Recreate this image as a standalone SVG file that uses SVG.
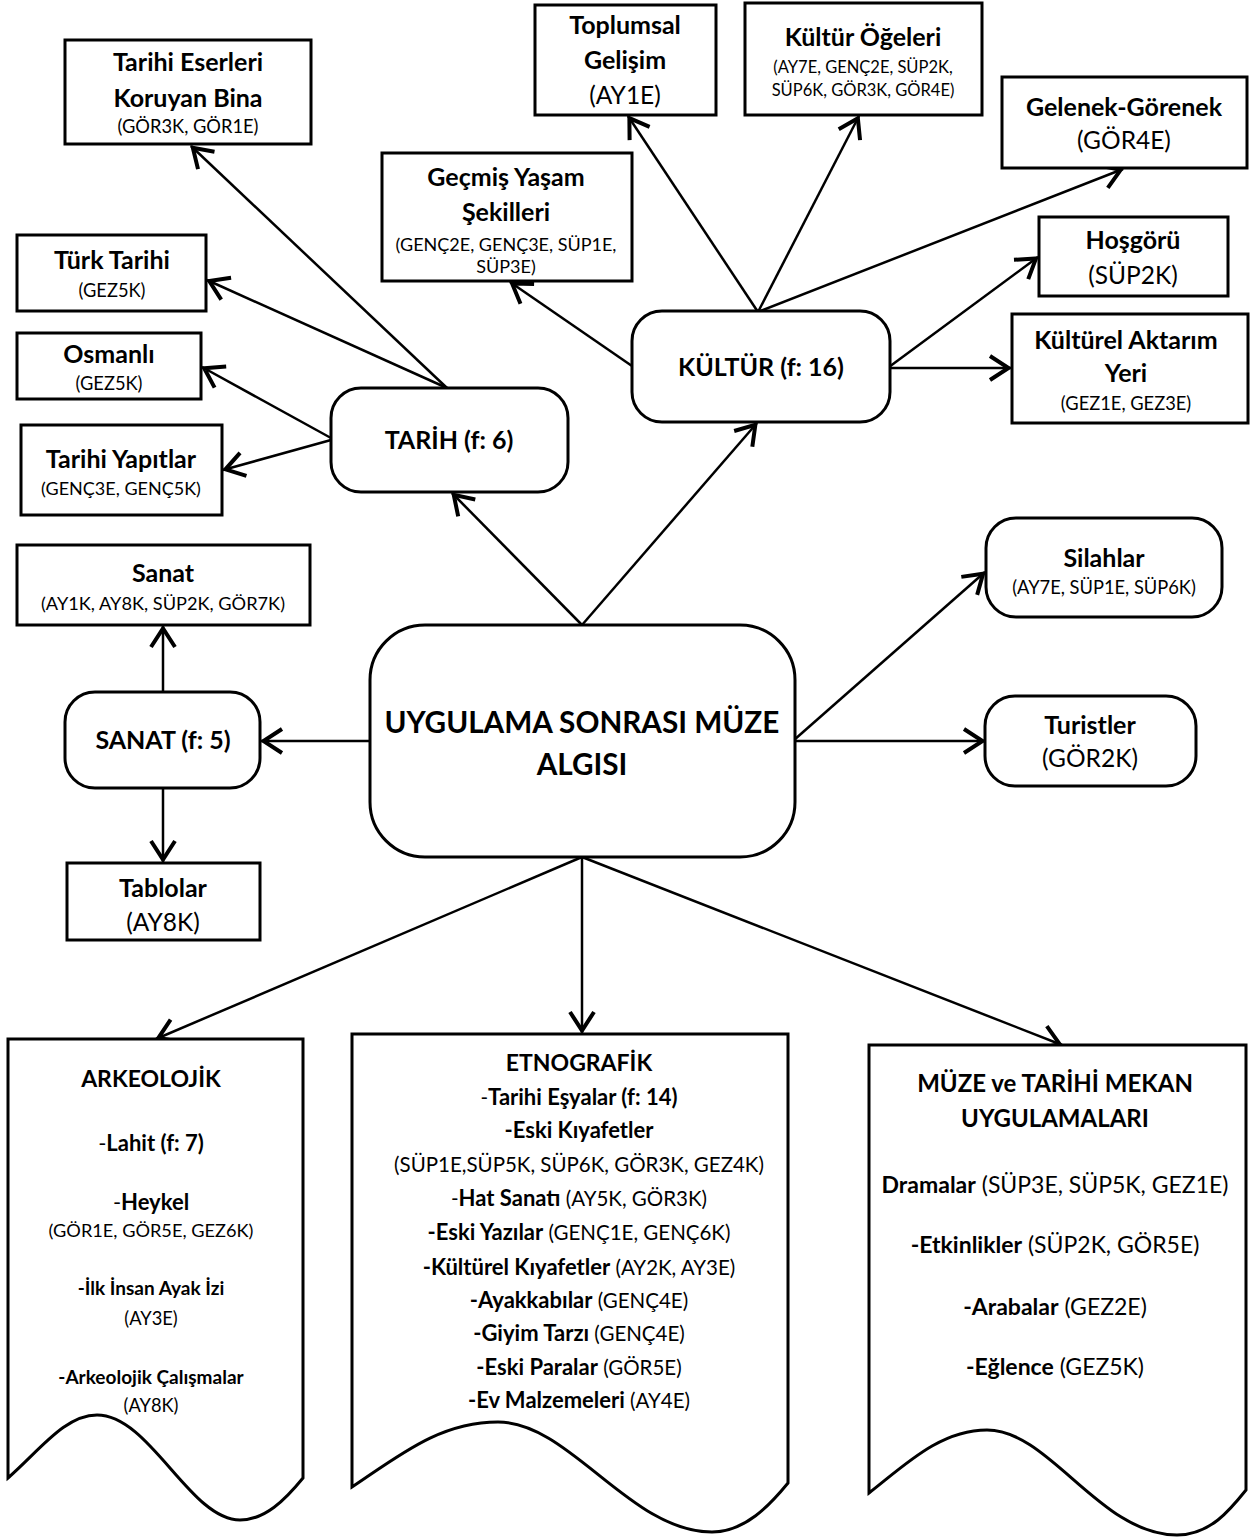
<svg xmlns="http://www.w3.org/2000/svg" width="1250" height="1537" viewBox="0 0 1250 1537">
<style>
text{font-family:Lato,"Liberation Sans",sans-serif;fill:#000;text-anchor:middle}
.b{font-weight:bold}
.h{font-size:25px;font-weight:bold}
.s{font-size:18.3px}
.m{font-size:24.5px}
.box{fill:#fff;stroke:#000;stroke-width:3}
.ln{fill:none;stroke:#000;stroke-width:2.5}
.d{font-size:20.5px}
.db{font-size:22px;font-weight:bold}
.a{font-size:18.3px}
.ab{font-size:19px;font-weight:bold}
.mz{font-size:23px}
</style>
<defs>
<marker id="ah" markerUnits="userSpaceOnUse" markerWidth="30" markerHeight="30" viewBox="-25 -15 30 30" refX="0" refY="0" orient="auto" overflow="visible">
<path d="M-21,-12 L-2.5,0 L-21,12" fill="none" stroke="#000" stroke-width="4"/>
</marker>
</defs>
<rect width="1250" height="1537" fill="#fff"/>
<g id="connectors">
<line class="ln" x1="582" y1="625" x2="452" y2="493" marker-end="url(#ah)"/>
<line class="ln" x1="582" y1="625" x2="757" y2="423" marker-end="url(#ah)"/>
<line class="ln" x1="447" y1="388" x2="191" y2="146" marker-end="url(#ah)"/>
<line class="ln" x1="447" y1="388" x2="207" y2="280" marker-end="url(#ah)"/>
<line class="ln" x1="331" y1="438" x2="202" y2="367" marker-end="url(#ah)"/>
<line class="ln" x1="331" y1="440" x2="223" y2="470" marker-end="url(#ah)"/>
<line class="ln" x1="758" y1="312" x2="628" y2="116" marker-end="url(#ah)"/>
<line class="ln" x1="632" y1="366" x2="510" y2="282" marker-end="url(#ah)"/>
<line class="ln" x1="758" y1="312" x2="859" y2="116" marker-end="url(#ah)"/>
<line class="ln" x1="758" y1="312" x2="1123" y2="169" marker-end="url(#ah)"/>
<line class="ln" x1="889" y1="367" x2="1038" y2="257" marker-end="url(#ah)"/>
<line class="ln" x1="889" y1="368" x2="1011" y2="368" marker-end="url(#ah)"/>
<line class="ln" x1="370" y1="741" x2="261" y2="741" marker-end="url(#ah)"/>
<line class="ln" x1="163" y1="692" x2="163" y2="626" marker-end="url(#ah)"/>
<line class="ln" x1="163" y1="788" x2="163" y2="862" marker-end="url(#ah)"/>
<line class="ln" x1="794" y1="740" x2="985" y2="572" marker-end="url(#ah)"/>
<line class="ln" x1="794" y1="741" x2="985" y2="741" marker-end="url(#ah)"/>
<line class="ln" x1="582" y1="857" x2="156" y2="1039" marker-end="url(#ah)"/>
<line class="ln" x1="582" y1="857" x2="582" y2="1033" marker-end="url(#ah)"/>
<line class="ln" x1="582" y1="857" x2="1062" y2="1045" marker-end="url(#ah)"/>
</g>
<g id="n-center">
<rect class="box" x="370" y="625" width="425" height="232" rx="55"/>
<text x="582" y="733" style="font-size:29.7px" class="b">UYGULAMA SONRASI MÜZE</text>
<text x="582" y="775" style="font-size:29.7px" class="b">ALGISI</text>
</g>
<g id="n-tarih">
<rect class="box" x="331" y="388" width="237" height="104" rx="30"/>
<text x="449" y="449" class="h">TARİH (f: 6)</text>
</g>
<g id="n-kultur">
<rect class="box" x="632" y="311" width="258" height="111" rx="30"/>
<text x="761" y="376" class="h">KÜLTÜR (f: 16)</text>
</g>
<g id="n-sanat">
<rect class="box" x="65" y="692" width="195" height="96" rx="30"/>
<text x="163" y="749" class="h">SANAT (f: 5)</text>
</g>
<g id="n-tarihi-eserler">
<rect class="box" x="65" y="40" width="246" height="104"/>
<text x="188" y="71" class="h">Tarihi Eserleri</text>
<text x="188" y="107" class="h">Koruyan Bina</text>
<text x="188" y="133" class="s">(GÖR3K, GÖR1E)</text>
</g>
<g id="n-turk-tarihi">
<rect class="box" x="17" y="235" width="189" height="76"/>
<text x="112" y="269" class="h">Türk Tarihi</text>
<text x="112" y="297" class="s">(GEZ5K)</text>
</g>
<g id="n-osmanli">
<rect class="box" x="17" y="333" width="184" height="66"/>
<text x="109" y="363" class="h">Osmanlı</text>
<text x="109" y="390" class="s">(GEZ5K)</text>
</g>
<g id="n-tarihi-yapitlar">
<rect class="box" x="21" y="425" width="201" height="90"/>
<text x="121" y="468" class="h">Tarihi Yapıtlar</text>
<text x="121" y="495" style="font-size:18px">(GENÇ3E, GENÇ5K)</text>
</g>
<g id="n-sanat-box">
<rect class="box" x="17" y="545" width="293" height="80"/>
<text x="163" y="582" class="h">Sanat</text>
<text x="163" y="610" style="font-size:18.2px">(AY1K, AY8K, SÜP2K, GÖR7K)</text>
</g>
<g id="n-tablolar">
<rect class="box" x="67" y="863" width="193" height="77"/>
<text x="163" y="897" class="h">Tablolar</text>
<text x="163" y="931" class="m">(AY8K)</text>
</g>
<g id="n-gecmis">
<rect class="box" x="382" y="153" width="250" height="128"/>
<text x="506" y="186" class="h">Geçmiş Yaşam</text>
<text x="506" y="221" class="h">Şekilleri</text>
<text x="506" y="251" style="font-size:18px">(GENÇ2E, GENÇ3E, SÜP1E,</text>
<text x="506" y="273" style="font-size:18px">SÜP3E)</text>
</g>
<g id="n-toplumsal">
<rect class="box" x="535" y="5" width="181" height="110"/>
<text x="625" y="34" class="h">Toplumsal</text>
<text x="625" y="69" class="h">Gelişim</text>
<text x="625" y="104" class="m">(AY1E)</text>
</g>
<g id="n-kultur-ogeleri">
<rect class="box" x="745" y="3" width="237" height="112"/>
<text x="863" y="46" class="h">Kültür Öğeleri</text>
<text x="863" y="73" style="font-size:16.5px">(AY7E, GENÇ2E, SÜP2K,</text>
<text x="863" y="96" style="font-size:16.5px">SÜP6K, GÖR3K, GÖR4E)</text>
</g>
<g id="n-gelenek">
<rect class="box" x="1002" y="77" width="245" height="91"/>
<text x="1124" y="116" class="h">Gelenek-Görenek</text>
<text x="1124" y="149" class="m">(GÖR4E)</text>
</g>
<g id="n-hosgoru">
<rect class="box" x="1039" y="217" width="189" height="79"/>
<text x="1133" y="249" class="h">Hoşgörü</text>
<text x="1133" y="284" class="m">(SÜP2K)</text>
</g>
<g id="n-aktarim">
<rect class="box" x="1012" y="314" width="236" height="109"/>
<text x="1126" y="349" class="h">Kültürel Aktarım</text>
<text x="1126" y="382" class="h">Yeri</text>
<text x="1126" y="410" class="s">(GEZ1E, GEZ3E)</text>
</g>
<g id="n-silahlar">
<rect class="box" x="986" y="518" width="236" height="99" rx="30"/>
<text x="1104" y="567" class="h">Silahlar</text>
<text x="1104" y="594" class="s">(AY7E, SÜP1E, SÜP6K)</text>
</g>
<g id="n-turistler">
<rect class="box" x="985" y="696" width="211" height="90" rx="30"/>
<text x="1090" y="734" class="h">Turistler</text>
<text x="1090" y="767" class="m">(GÖR2K)</text>
</g>
<g id="n-arkeolojik">
<path class="box" d="M8,1039 L303,1039 L303,1478 C285,1500 265,1520 240,1520 C190,1520 150,1415 97,1415 C65,1415 40,1450 8,1478 Z"/>
<text x="151" y="1087" style="font-size:23px" class="b">ARKEOLOJİK</text>
<text x="151" y="1151" style="font-size:22px">-<tspan class="b">Lahit (f: 7)</tspan></text>
<text x="151" y="1210" style="font-size:22px">-<tspan class="b">Heykel</tspan></text>
<text x="151" y="1237" style="font-size:18.2px">(GÖR1E, GÖR5E, GEZ6K)</text>
<text x="151" y="1295" class="ab">-İlk İnsan Ayak İzi</text>
<text x="151" y="1325" class="a">(AY3E)</text>
<text x="151" y="1384" class="ab">-Arkeolojik Çalışmalar</text>
<text x="151" y="1412" class="a">(AY8K)</text>
</g>
<g id="n-etnografik">
<path class="box" d="M352,1034 L788,1034 L788,1483 C770,1505 745,1532 712,1532 C630,1532 570,1422 498,1422 C440,1422 400,1455 352,1487 Z"/>
<text x="579" y="1071" style="font-size:23px" class="b">ETNOGRAFİK</text>
<text x="579" y="1105" class="d">-<tspan class="db">Tarihi Eşyalar (f: 14)</tspan></text>
<text x="579" y="1138" class="db">-Eski Kıyafetler</text>
<text x="579" y="1172" class="d">(SÜP1E,SÜP5K, SÜP6K, GÖR3K, GEZ4K)</text>
<text x="579" y="1206" class="d">-<tspan class="db">Hat Sanatı</tspan> (AY5K, GÖR3K)</text>
<text x="579" y="1240" class="d"><tspan class="db">-Eski Yazılar</tspan> (GENÇ1E, GENÇ6K)</text>
<text x="579" y="1275" class="d"><tspan class="db">-Kültürel Kıyafetler</tspan> (AY2K, AY3E)</text>
<text x="579" y="1308" class="d"><tspan class="db">-Ayakkabılar</tspan> (GENÇ4E)</text>
<text x="579" y="1341" class="d"><tspan class="db">-Giyim Tarzı</tspan> (GENÇ4E)</text>
<text x="579" y="1375" class="d"><tspan class="db">-Eski Paralar</tspan> (GÖR5E)</text>
<text x="579" y="1408" class="d"><tspan class="db">-Ev Malzemeleri</tspan> (AY4E)</text>
</g>
<g id="n-muze">
<path class="box" d="M869,1045 L1246,1045 L1246,1490 C1230,1510 1210,1535 1177,1535 C1100,1535 1050,1430 987,1430 C940,1430 905,1465 869,1493 Z"/>
<text x="1055" y="1092" style="font-size:24px" class="b">MÜZE ve TARİHİ MEKAN</text>
<text x="1055" y="1127" style="font-size:24px" class="b">UYGULAMALARI</text>
<text x="1055" y="1193" class="mz"><tspan class="b">Dramalar</tspan> (SÜP3E, SÜP5K, GEZ1E)</text>
<text x="1055" y="1253" class="mz"><tspan class="b">-Etkinlikler</tspan> (SÜP2K, GÖR5E)</text>
<text x="1055" y="1315" class="mz"><tspan class="b">-Arabalar</tspan> (GEZ2E)</text>
<text x="1055" y="1375" class="mz"><tspan class="b">-Eğlence</tspan> (GEZ5K)</text>
</g>
</svg>
